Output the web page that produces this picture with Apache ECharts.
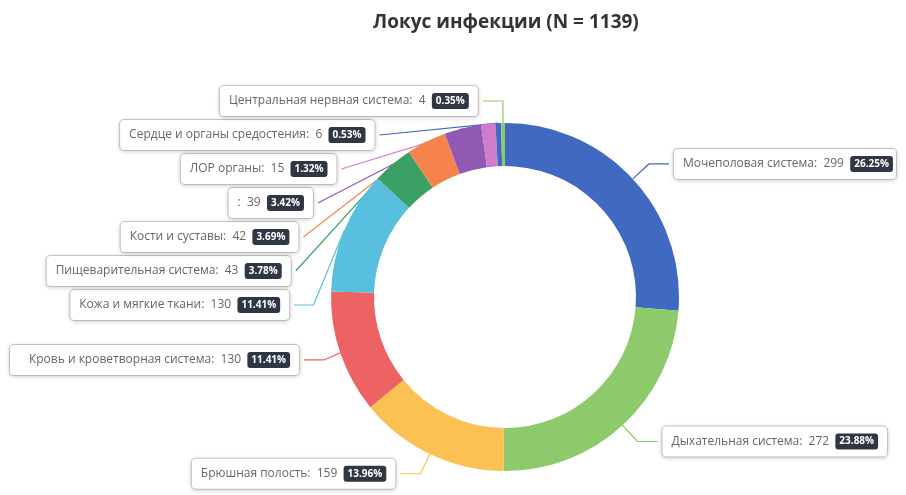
<!DOCTYPE html>
<html>
<head>
<meta charset="utf-8">
<script src="https://cdn.jsdelivr.net/npm/echarts@6/dist/echarts.min.js"></script>
<style>
  html, body { margin: 0; padding: 0; background: #fff; }
  #chart { width: 906px; height: 495px; }
</style>
</head>
<body>
<div id="chart"></div>
<script>
// infection locus categories, clockwise from 12 o'clock
const categories = [
    'Мочеполовая система',
    'Дыхательная система',
    'Брюшная полость',
    'Кровь и кроветворная система',
    'Кожа и мягкие ткани',
    'Пищеварительная система',
    'Кости и суставы',
    '',
    'ЛОР органы',
    'Сердце и органы средостения',
    'Центральная нервная система'
];
const counts = [299, 272, 159, 130, 130, 43, 42, 39, 15, 6, 4];
const titleText = 'Локус инфекции (N = 1139)';

// classic echarts palette, a bit more saturated like the reference print
const palette = ['#4069c2', '#8dca6c', '#fbc152', '#ed6262', '#58bfdf', '#3aa066', '#f7834c', '#9159b3', '#d07ccd'];

const chart = echarts.init(document.getElementById('chart'));

const option = {
    color: palette,
    textStyle: { fontFamily: '"Open Sans", sans-serif' },
    title: {
        text: titleText,
        left: 368,
        top: 8,
        textStyle: {
            fontSize: 19,
            fontWeight: 'bold',
            color: '#333',
            fontFamily: '"Open Sans", sans-serif'
        }
    },
    series: [
        {
            type: 'pie',
            center: [505, 297],
            radius: [131, 174],
            startAngle: 90,
            avoidLabelOverlap: true,
            data: categories.map((name, i) => ({ name: name, value: counts[i] })),
            label: {
                show: true,
                position: 'outside',
                formatter: (p) => `{name|${p.name}:  ${p.value}}  {per|${p.percent.toFixed(2)}%}`,
                backgroundColor: '#fff',
                borderColor: '#ccc',
                borderWidth: 1,
                borderRadius: 4,
                padding: [7, 9],
                shadowBlur: 4,
                shadowColor: 'rgba(0,0,0,0.15)',
                shadowOffsetY: 1,
                rich: {
                    name: {
                        fontSize: 12,
                        color: '#666',
                        fontFamily: '"Open Sans", sans-serif'
                    },
                    per: {
                        fontSize: 10,
                        fontWeight: 'bold',
                        color: '#fff',
                        backgroundColor: '#2f3744',
                        borderRadius: 3,
                        padding: [3, 4],
                        fontFamily: '"Open Sans", sans-serif'
                    }
                }
            },
            labelLine: {
                length: 22,
                length2: 20,
                lineStyle: { width: 1.2 }
            }
        }
    ]
};

chart.setOption(option);
</script>
</body>
</html>
